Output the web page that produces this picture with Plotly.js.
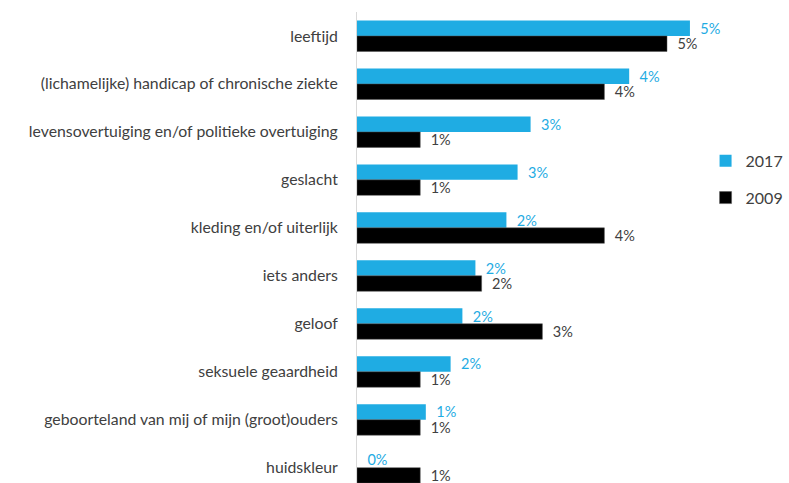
<!DOCTYPE html>
<html>
<head>
<meta charset="utf-8">
<script src="https://cdn.plot.ly/plotly-3.0.1.min.js"></script>
<style>html,body{margin:0;padding:0;background:#fff;}#chart{width:789px;height:483px;}</style>
</head>
<body>
<div id="chart"></div>
<script>
const categories = [
  "leeftijd",
  "(lichamelijke) handicap of chronische ziekte",
  "levensovertuiging en/of politieke overtuiging",
  "geslacht",
  "kleding en/of uiterlijk",
  "iets anders",
  "geloof",
  "seksuele geaardheid",
  "geboorteland van mij of mijn (groot)ouders",
  "huidskleur"
];
const values2017 = [5.37, 4.39, 2.80, 2.59, 2.41, 1.91, 1.70, 1.51, 1.11, 0.0];
const values2009 = [5.00, 3.99, 1.02, 1.02, 3.99, 2.01, 2.99, 1.02, 1.02, 1.02];
const seriesNames = ["2017", "2009"];

const font = "Lato, 'Liberation Sans', sans-serif";
const blue = "#1FACE3";

const traces = [
  {
    type: "bar", orientation: "h", name: seriesNames[0], legendgroup: "a",
    y: categories, x: values2017,
    marker: {color: blue},
    text: values2017.map(v => "\u00a0\u00a0" + Math.round(v) + "%"),
    textposition: "outside", cliponaxis: false, constraintext: "none",
    textfont: {family: font, size: 14.5, color: blue},
    hoverinfo: "none"
  },
  {
    type: "bar", orientation: "h", name: seriesNames[1], legendgroup: "b",
    y: categories, x: values2009,
    marker: {color: "#000000", line: {color: "#555555", width: 0.5}},
    text: values2009.map(v => "\u00a0\u00a0" + Math.round(v) + "%"),
    textposition: "outside", cliponaxis: false, constraintext: "none",
    textfont: {family: font, size: 14.5, color: "#404040"},
    hoverinfo: "none"
  }
];

const layout = {
  width: 789, height: 483,
  margin: {l: 357, r: 56, t: 12, b: 0, pad: 0},
  paper_bgcolor: "#ffffff", plot_bgcolor: "#ffffff",
  barmode: "group", bargap: 0.354, bargroupgap: 0,
  font: {family: font, size: 15, color: "#404040"},
  xaxis: {range: [0, 6], showgrid: false, zeroline: false, showticklabels: false, ticks: "", showline: false, fixedrange: true},
  yaxis: {
    type: "category", range: [9.32, -0.5], showgrid: false, zeroline: false,
    showline: true, linecolor: "#d9d9d9", linewidth: 1, ticks: "",
    ticklabelstandoff: 15, tickfont: {family: font, size: 15.8, color: "#404040"}
  },
  showlegend: true,
  legend: {
    x: 0.937, xanchor: "left", y: 0.72, yanchor: "top",
    traceorder: "grouped", tracegroupgap: 13,
    font: {family: font, size: 16, color: "#404040"},
    bgcolor: "rgba(0,0,0,0)"
  }
};

Plotly.newPlot("chart", traces, layout, {staticPlot: true, displayModeBar: false});
</script>
</body>
</html>
